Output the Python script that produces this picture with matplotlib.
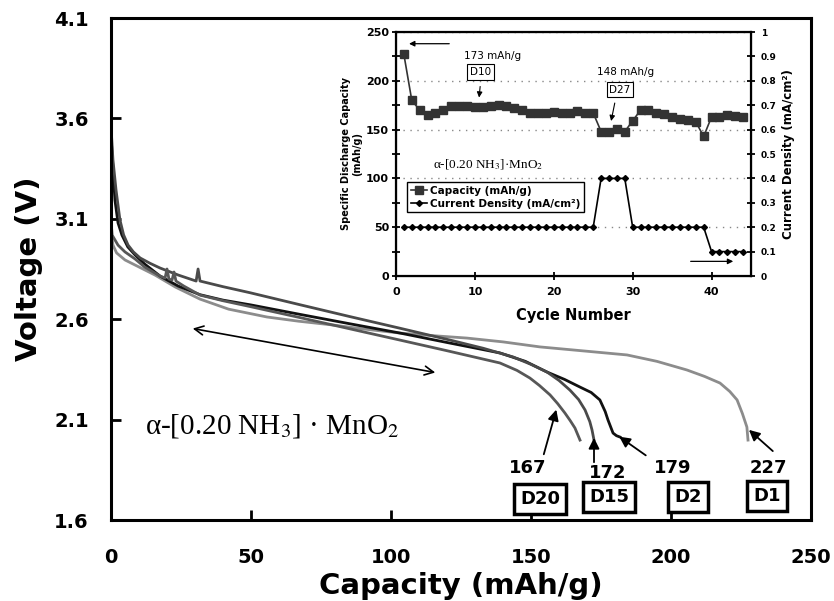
import matplotlib
matplotlib.use('Agg')
import matplotlib.pyplot as plt
from matplotlib.ticker import MultipleLocator, FuncFormatter

plt.rcParams['mathtext.fontset'] = 'stix'

# ---------------- discharge curves (capacity mAh/g, voltage V) ----------------
d1_cap = [0.0, 0.7, 2.0, 5.0, 10.0, 15.7, 23.0, 31.8, 42.0, 55.7, 67.0, 79.3, 91.0, 103.2, 115.0,
          127.1, 140.0, 153.2, 168.0, 184.3, 195.0, 205.7, 212.0, 217.5, 221.0, 223.6, 225.5, 227.1, 227.5]
d1_v = [3.044, 2.969, 2.930, 2.895, 2.860, 2.820, 2.760, 2.700, 2.650, 2.611, 2.590, 2.571, 2.550, 2.531, 2.518,
        2.506, 2.487, 2.462, 2.443, 2.422, 2.390, 2.347, 2.315, 2.282, 2.240, 2.198, 2.130, 2.063, 1.998]

d2_cap = [0.0, 0.7, 1.4, 2.5, 3.9, 6.0, 8.6, 12.0, 17.5, 24.0, 31.8, 40.0, 50.0, 67.5, 85.0, 103.2,
          120.0, 138.9, 148.0, 155.7, 162.0, 167.5, 171.5, 174.6, 176.5, 177.5, 179.3, 180.5, 181.8]
d2_v = [3.517, 3.350, 3.194, 3.080, 3.019, 2.960, 2.920, 2.875, 2.815, 2.765, 2.722, 2.695, 2.671, 2.624, 2.578, 2.531,
        2.484, 2.432, 2.390, 2.337, 2.300, 2.262, 2.235, 2.198, 2.140, 2.098, 2.033, 2.020, 2.013]

d15_cap = [0.0, 0.7, 1.8, 3.2, 4.5, 6.1, 8.0, 10.4, 14.0, 17.5, 24.0, 30.4, 31.1, 31.8, 40.0, 49.6, 67.5,
           85.0, 103.2, 121.1, 133.0, 143.6, 150.0, 155.7, 160.0, 163.9, 167.0, 169.3, 171.0, 171.8, 172.5]
d15_v = [3.557, 3.393, 3.243, 3.094, 3.020, 2.969, 2.935, 2.905, 2.878, 2.855, 2.820, 2.790, 2.850, 2.790, 2.762, 2.732, 2.672,
         2.614, 2.555, 2.496, 2.455, 2.412, 2.375, 2.337, 2.295, 2.247, 2.200, 2.148, 2.090, 2.048, 1.998]

d20_cap = [0.0, 0.4, 2.5, 5.0, 8.6, 12.0, 17.5, 19.3, 20.0, 20.7, 21.8, 22.5, 23.2, 26.0, 31.8, 40.0, 50.0,
           67.5, 85.0, 103.2, 120.0, 138.9, 145.0, 149.6, 153.0, 156.8, 159.5, 162.1, 164.0, 165.7, 167.5]
d20_v = [3.094, 3.019, 2.969, 2.935, 2.900, 2.860, 2.815, 2.805, 2.850, 2.800, 2.795, 2.835, 2.790, 2.765, 2.720, 2.692, 2.662,
         2.608, 2.553, 2.496, 2.443, 2.382, 2.345, 2.307, 2.270, 2.223, 2.180, 2.133, 2.095, 2.058, 1.998]

# ---------------- inset: cycling data ----------------
cycles = list(range(1, 45))
capacity = [227, 180, 170, 165, 167, 170, 174, 174, 174, 173, 173, 174, 175, 174, 172, 170,
            167, 167, 167, 168, 167, 167, 169, 167, 167, 148, 148, 151, 148, 159, 170, 170,
            167, 166, 163, 161, 160, 158, 143, 163, 163, 165, 164, 163]
current = [0.2] * 25 + [0.4] * 4 + [0.2] * 10 + [0.1] * 5

fig = plt.figure(figsize=(8.34, 6.01), dpi=100)

# ---------------- main axes ----------------
ax = fig.add_axes([111 / 834, 1 - 520 / 601, 700 / 834, 502 / 601])
ax.plot(d1_cap, d1_v, color='#8c8c8c', lw=2)
ax.plot(d2_cap, d2_v, color='#111111', lw=2)
ax.plot(d15_cap, d15_v, color='#4a4a4a', lw=2)
ax.plot(d20_cap, d20_v, color='#575757', lw=2)

ax.set_xlim(0, 250)
ax.set_ylim(1.6, 4.1)
ax.set_xticks([0, 50, 100, 150, 200, 250])
ax.set_yticks([1.6, 2.1, 2.6, 3.1, 3.6, 4.1])
ax.yaxis.set_major_formatter(FuncFormatter(lambda v, p: f'{v:.1f}'))
ax.tick_params(direction='in', length=7, width=2, labelsize=14)
ax.tick_params(axis='x', pad=20)
ax.tick_params(axis='y', pad=16)
for lab in ax.get_xticklabels() + ax.get_yticklabels():
    lab.set_fontweight('bold')
for sp in ax.spines.values():
    sp.set_linewidth(2.2)
ax.set_xlabel('Capacity (mAh/g)', fontsize=21, fontweight='bold', labelpad=4)
ax.set_ylabel('Voltage (V)', fontsize=21, fontweight='bold', labelpad=8)

ax.text(12, 2.07, 'α-[0.20 NH$_3$] · MnO$_2$', fontsize=21,
        family='Liberation Serif', ha='left', va='center')
ax.annotate('', xy=(28.2, 2.556), xytext=(116.8, 2.332),
            arrowprops=dict(arrowstyle='<->', color='black', lw=1.2, mutation_scale=16))

end_labels = ['167', '172', '179', '227']
end_label_x = [148.9, 177.5, 200.7, 234.6]
end_label_y = [1.859, 1.834, 1.859, 1.859]
for t, x, y in zip(end_labels, end_label_x, end_label_y):
    ax.text(x, y, t, fontsize=13, fontweight='bold', ha='center', va='center')

box_labels = ['D20', 'D15', 'D2', 'D1']
box_x = [153.2, 177.9, 206.1, 234.3]
box_y = [1.705, 1.715, 1.715, 1.72]
for t, x, y in zip(box_labels, box_x, box_y):
    ax.text(x, y, t, fontsize=13, fontweight='bold', ha='center', va='center',
            bbox=dict(boxstyle='square,pad=0.35', fc='white', ec='black', lw=2.5))

arrow_tail = [(154.3, 1.914), (172.5, 1.874), (191.8, 1.914), (237.1, 1.934)]
arrow_head = [(159.3, 2.163), (172.5, 2.023), (180.7, 2.023), (227.1, 2.058)]
for tail, head in zip(arrow_tail, arrow_head):
    ax.annotate('', xy=head, xytext=tail,
                arrowprops=dict(arrowstyle='-|>', color='black', lw=1.3, mutation_scale=16))

# ---------------- inset ----------------
ax2 = fig.add_axes([396 / 834, 1 - 276 / 601, 355 / 834, 244 / 601])
l1, = ax2.plot(cycles, capacity, '-s', color='#333333', ms=5.5, lw=1.2, label='Capacity (mAh/g)')
ax2.set_xlim(0, 45)
ax2.set_ylim(0, 250)
ax2.set_xticks([0, 10, 20, 30, 40])
ax2.yaxis.set_major_locator(MultipleLocator(50))
ax2.yaxis.set_minor_locator(MultipleLocator(25))
ax2.yaxis.grid(True, which='major', linestyle=(0, (1, 4)), color='#888888', lw=1)
ax2.tick_params(direction='inout', length=6, width=1.3, labelsize=8, pad=2)
ax2.tick_params(axis='x', pad=5)
ax2.tick_params(which='minor', direction='inout', length=6, width=1.3)
for lab in ax2.get_xticklabels() + ax2.get_yticklabels():
    lab.set_fontweight('bold')
for sp in ax2.spines.values():
    sp.set_linewidth(1.6)
ax2.set_xlabel('Cycle Number', fontsize=10.5, fontweight='bold', labelpad=8)
ax2.set_ylabel('Specific Discharge Capacity\n(mAh/g)', fontsize=7, fontweight='bold',
               labelpad=3, linespacing=1.1)

ax3 = ax2.twinx()
l2, = ax3.plot(cycles, current, '-D', color='black', ms=3, lw=1.2,
               label='Current Density (mA/cm²)')
ax3.set_ylim(0, 1)
ax3.yaxis.set_major_locator(MultipleLocator(0.1))
ax3.yaxis.set_major_formatter(FuncFormatter(lambda v, p: f'{v:g}'))
ax3.tick_params(direction='inout', length=6, width=1.3, labelsize=6.5, pad=4)
for lab in ax3.get_yticklabels():
    lab.set_fontweight('bold')
ax3.set_ylabel('Current Density (mA/cm²)', fontsize=8.5, fontweight='bold', labelpad=4)

leg = ax3.legend(handles=[l1, l2], loc='upper left', bbox_to_anchor=(0.031, 0.385),
                 borderaxespad=0, fancybox=False, edgecolor='black', framealpha=1,
                 prop=dict(size=7.5, weight='bold'), handlelength=1.6, handletextpad=0.3,
                 borderpad=0.35, labelspacing=0.3)
leg.get_frame().set_linewidth(1)

ax2.text(11.7, 114, 'α-[0.20 NH$_3$]·MnO$_2$', fontsize=9.5,
         family='Liberation Serif', ha='center', va='center')
ax2.text(12.2, 225, '173 mAh/g', fontsize=7.5, ha='center', va='center')
ax2.text(10.7, 209, 'D10', fontsize=7.5, ha='center', va='center',
         bbox=dict(boxstyle='square,pad=0.25', fc='white', ec='black', lw=0.8))
ax2.text(29.1, 209, '148 mAh/g', fontsize=7.5, ha='center', va='center')
ax2.text(28.4, 191, 'D27', fontsize=7.5, ha='center', va='center',
         bbox=dict(boxstyle='square,pad=0.25', fc='white', ec='black', lw=0.8))
ax2.annotate('', xy=(10.5, 180), xytext=(10.7, 197),
             arrowprops=dict(arrowstyle='-|>', color='black', lw=0.8, mutation_scale=8))
ax2.annotate('', xy=(27.2, 156), xytext=(27.8, 180),
             arrowprops=dict(arrowstyle='-|>', color='black', lw=0.8, mutation_scale=8))
ax2.annotate('', xy=(1.3, 238), xytext=(7.1, 238),
             arrowprops=dict(arrowstyle='-|>', color='black', lw=0.9, mutation_scale=8))
ax2.annotate('', xy=(43.1, 15), xytext=(37.0, 15),
             arrowprops=dict(arrowstyle='-|>', color='black', lw=0.9, mutation_scale=8))

fig.savefig('out.png', dpi=100)
